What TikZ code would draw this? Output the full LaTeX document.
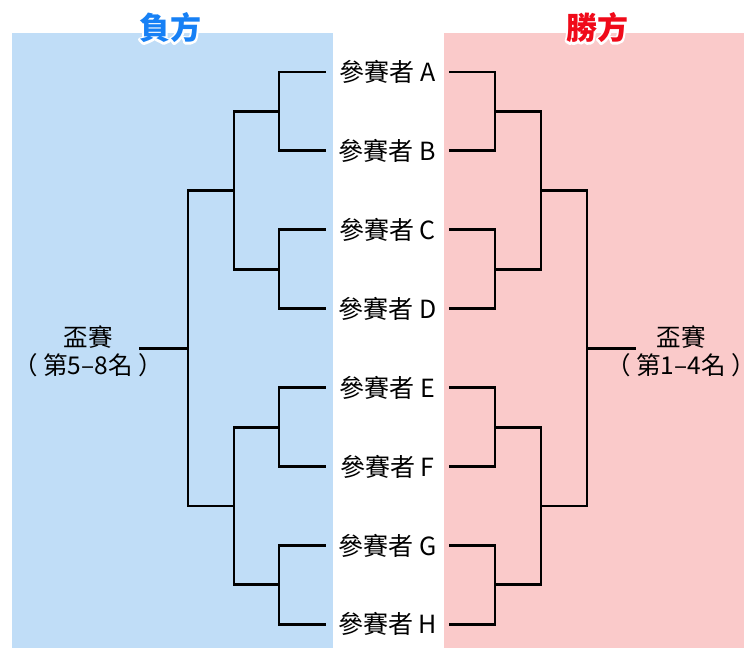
\documentclass[tikz,border=0pt]{standalone}
\usepackage{fontspec}
\setmainfont{Noto Sans CJK TC}
\newfontfamily\cjk{Noto Sans CJK TC}
\definecolor{leftbg}{RGB}{192,221,247}
\definecolor{rightbg}{RGB}{250,202,202}
\definecolor{titleblue}{RGB}{22,128,245}
\definecolor{titlered}{RGB}{240,10,25}
\tikzset{
  br/.style={line width=2.9pt, black, line join=miter},
  player/.style={font=\cjk\fontsize{25}{28}\selectfont, minimum width=123pt, inner sep=0pt, align=center},
  cup/.style={font=\cjk\fontsize{24.5}{28}\selectfont, align=center, inner sep=0pt},
  titletxt/.style={font=\cjk\bfseries\fontsize{31}{34}\selectfont, inner sep=0pt},
}
\newcommand{\halotext}[1]{\special{pdf:literal direct 1 Tr 4 w 1 j 1 1 1 RG}#1\special{pdf:literal direct 0 Tr}}
\begin{document}
\begin{tikzpicture}[x=1pt,y=-1pt]
\useasboundingbox (0,0) rectangle (744,648);
\fill[white] (0,0) rectangle (744,648);
\fill[leftbg] (12,33) rectangle (333,648);
\fill[rightbg] (444,33) rectangle (744,648);

% titles with white halo
\node[titletxt, white] (tlh) at (170,28) {\halotext{負方}};
\node[titletxt, text=titleblue] (tl) at (170,28) {負方};
\node[titletxt, white] (trh) at (597,28) {\halotext{勝方}};
\node[titletxt, text=titlered] (tr) at (597,28) {勝方};

% participants
\node[player] (pA) at (387.5,72.0) {參賽者 A};
\node[player] (pB) at (387.5,150.9) {參賽者 B};
\node[player] (pC) at (387.5,229.8) {參賽者 C};
\node[player] (pD) at (387.5,308.7) {參賽者 D};
\node[player] (pE) at (387.5,387.6) {參賽者 E};
\node[player] (pF) at (387.5,466.5) {參賽者 F};
\node[player] (pG) at (387.5,545.4) {參賽者 G};
\node[player] (pH) at (387.5,624.3) {參賽者 H};

% cup labels
\node[cup] (lcup) at (88,351) {盃賽\\（ 第5–8名 ）};
\node[cup] (rcup) at (681,351) {盃賽\\（ 第1–4名 ）};

% left bracket junctions
\coordinate (LAB) at (279,111.45);
\coordinate (LCD) at (279,269.25);
\coordinate (LEF) at (279,427.05);
\coordinate (LGH) at (279,584.85);
\coordinate (LABCD) at (234,190.35);
\coordinate (LEFGH) at (234,505.95);
\coordinate (LALL) at (188,348.15);
\coordinate (LEND) at (139,348.15);

% right bracket junctions
\coordinate (RAB) at (495,111.45);
\coordinate (RCD) at (495,269.25);
\coordinate (REF) at (495,427.05);
\coordinate (RGH) at (495,584.85);
\coordinate (RABCD) at (541,190.35);
\coordinate (REFGH) at (541,505.95);
\coordinate (RALL) at (587,348.15);
\coordinate (REND) at (636,348.15);

% left side
\draw[br] (pA.west) -| (LAB) |- (pB.west);
\draw[br] (pC.west) -| (LCD) |- (pD.west);
\draw[br] (pE.west) -| (LEF) |- (pF.west);
\draw[br] (pG.west) -| (LGH) |- (pH.west);
\draw[br] (LAB) -| (LABCD) |- (LCD);
\draw[br] (LEF) -| (LEFGH) |- (LGH);
\draw[br] (LABCD) -| (LALL) |- (LEFGH);
\draw[br] (LALL) -- (LEND);

% right side
\draw[br] (pA.east) -| (RAB) |- (pB.east);
\draw[br] (pC.east) -| (RCD) |- (pD.east);
\draw[br] (pE.east) -| (REF) |- (pF.east);
\draw[br] (pG.east) -| (RGH) |- (pH.east);
\draw[br] (RAB) -| (RABCD) |- (RCD);
\draw[br] (REF) -| (REFGH) |- (RGH);
\draw[br] (RABCD) -| (RALL) |- (REFGH);
\draw[br] (RALL) -- (REND);
\end{tikzpicture}
\end{document}
